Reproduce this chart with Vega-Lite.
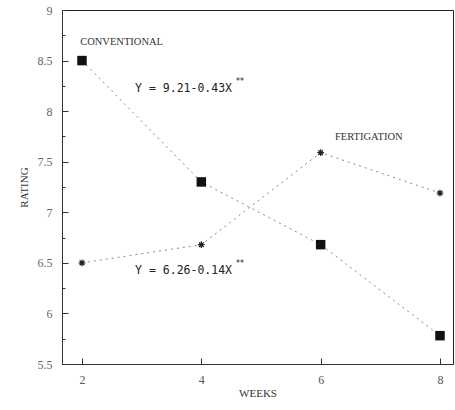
{
  "$schema": "https://vega.github.io/schema/vega-lite/v6.json",
  "width": 391,
  "height": 354,
  "autosize": "none",
  "padding": {"left": 62, "top": 10, "right": 2, "bottom": 46},
  "background": "white",
  "config": {"view": {"stroke": "#222", "strokeWidth": 1}},
  "datasets": {
    "obs": [
      {"weeks": 2, "rating": 8.5, "treatment": "CONVENTIONAL"},
      {"weeks": 4, "rating": 7.3, "treatment": "CONVENTIONAL"},
      {"weeks": 6, "rating": 6.68, "treatment": "CONVENTIONAL"},
      {"weeks": 8, "rating": 5.78, "treatment": "CONVENTIONAL"},
      {"weeks": 2, "rating": 6.5, "treatment": "FERTIGATION"},
      {"weeks": 4, "rating": 6.68, "treatment": "FERTIGATION"},
      {"weeks": 6, "rating": 7.59, "treatment": "FERTIGATION"},
      {"weeks": 8, "rating": 7.19, "treatment": "FERTIGATION"}
    ],
    "names": [
      {"weeks": 1.97, "rating": 8.68, "label": "CONVENTIONAL"},
      {"weeks": 6.24, "rating": 7.74, "label": "FERTIGATION"}
    ],
    "eqs": [
      {"weeks": 2.89, "rating": 8.22, "label": "Y = 9.21-0.43X"},
      {"weeks": 2.89, "rating": 6.42, "label": "Y = 6.26-0.14X"}
    ],
    "sups": [
      {"weeks": 4.58, "rating": 8.29, "label": "**"},
      {"weeks": 4.58, "rating": 6.49, "label": "**"}
    ]
  },
  "encoding": {
    "x": {
      "field": "weeks", "type": "quantitative",
      "scale": {"domain": [1.665, 8.218], "nice": false, "zero": false},
      "axis": {
        "values": [2, 4, 6, 8], "title": "WEEKS", "grid": false, "ticks": true,
        "domainColor": "#333", "tickColor": "#333", "tickSize": -6, "tickWidth": 1,
        "labelPadding": 16, "labelColor": "#555", "labelFont": "Liberation Serif", "labelFontSize": 12,
        "titleFont": "Liberation Serif", "titleFontSize": 11, "titleFontWeight": "normal", "titleColor": "#333", "titlePadding": 2
      }
    },
    "y": {
      "field": "rating", "type": "quantitative",
      "scale": {"domain": [5.5, 9], "nice": false, "zero": false},
      "axis": {
        "values": [5.5, 5.75, 6, 6.25, 6.5, 6.75, 7, 7.25, 7.5, 7.75, 8, 8.25, 8.5, 8.75, 9],
        "labelExpr": "datum.value % 0.5 === 0 ? '' + datum.value : ''",
        "title": "RATING", "grid": false, "ticks": true,
        "domainColor": "#444", "domainDash": [2, 2], "tickColor": "#333", "tickWidth": 1,
        "tickSize": {"condition": {"test": "datum.value % 0.5 === 0", "value": -6}, "value": -3},
        "labelPadding": 16, "labelColor": "#666", "labelFont": "Liberation Serif", "labelFontSize": 12,
        "titleFont": "Liberation Serif", "titleFontSize": 11, "titleFontWeight": "normal", "titleColor": "#333", "titlePadding": 8
      }
    }
  },
  "layer": [
    {
      "data": {"name": "obs"},
      "mark": {"type": "line", "strokeDash": [2, 4], "strokeWidth": 1, "color": "#888"},
      "encoding": {"detail": {"field": "treatment"}}
    },
    {
      "data": {"name": "obs"},
      "transform": [{"filter": "datum.treatment === 'CONVENTIONAL'"}],
      "mark": {"type": "point", "shape": "square", "filled": true, "size": 90, "color": "#111", "opacity": 1}
    },
    {
      "data": {"name": "obs"},
      "transform": [{"filter": "datum.treatment === 'FERTIGATION'"}],
      "mark": {"type": "point", "shape": "M-1,0L1,0M0,-1L0,1M-0.7,-0.7L0.7,0.7M-0.7,0.7L0.7,-0.7", "filled": false, "size": 45, "strokeWidth": 1.2, "color": "#222", "opacity": 1}
    },
    {
      "data": {"name": "names"},
      "mark": {"type": "text", "align": "left", "baseline": "middle", "font": "Liberation Serif", "fontSize": 10.5, "color": "#333"},
      "encoding": {"text": {"field": "label"}}
    },
    {
      "data": {"name": "eqs"},
      "mark": {"type": "text", "align": "left", "baseline": "middle", "font": "DejaVu Sans Mono", "fontSize": 11.5, "color": "#222"},
      "encoding": {"text": {"field": "label"}}
    },
    {
      "data": {"name": "sups"},
      "mark": {"type": "text", "align": "left", "baseline": "middle", "font": "DejaVu Sans", "fontSize": 8, "color": "#222"},
      "encoding": {"text": {"field": "label"}}
    }
  ]
}
